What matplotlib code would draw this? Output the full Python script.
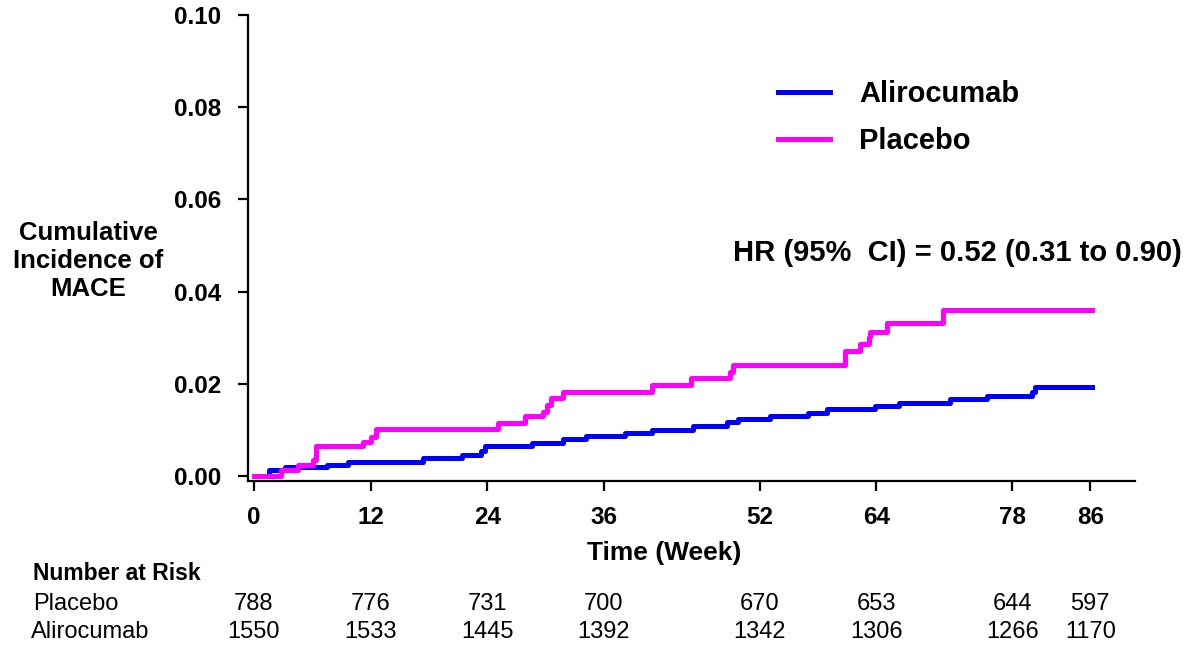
import matplotlib
matplotlib.use('Agg')
import matplotlib.pyplot as plt
from matplotlib.transforms import blended_transform_factory

plt.rcParams['font.family'] = ['Liberation Sans', 'DejaVu Sans']

# Kaplan-Meier style cumulative incidence
placebo_wk = [0, 2.8, 4.5, 6.1, 6.4, 11.2, 12.1, 12.6, 25.1, 27.9, 29.7, 30.1, 30.6,
              31.8, 40.9, 44.9, 49.0, 49.3, 60.8, 62.3, 63.2, 63.4, 65.1, 70.9, 86.2]
placebo_inc = [0, 0.0012, 0.0024, 0.0035, 0.0064, 0.0074, 0.0085, 0.0101, 0.0114, 0.0129,
               0.0139, 0.0154, 0.0169, 0.0183, 0.0197, 0.0212, 0.0226, 0.0241, 0.0270,
               0.0286, 0.0302, 0.0313, 0.0331, 0.0360, 0.0360]

aliro_wk = [0, 1.6, 3.2, 7.5, 9.7, 17.4, 21.4, 23.4, 23.8, 28.6, 31.8, 34.2, 38.2, 40.9,
            45.2, 48.6, 49.8, 53.1, 57.0, 58.9, 63.9, 66.3, 71.6, 75.4, 80.0, 80.3, 86.2]
aliro_inc = [0, 0.0012, 0.0019, 0.0024, 0.0031, 0.0038, 0.0046, 0.0055, 0.0065, 0.0072,
             0.0080, 0.0087, 0.0093, 0.0099, 0.0108, 0.0116, 0.0123, 0.0130, 0.0137,
             0.0145, 0.0152, 0.0159, 0.0166, 0.0174, 0.0183, 0.0192, 0.0192]

weeks = [0, 12, 24, 36, 52, 64, 78, 86]
risk_placebo = [788, 776, 731, 700, 670, 653, 644, 597]
risk_aliro = [1550, 1533, 1445, 1392, 1342, 1306, 1266, 1170]
yticks = [0.00, 0.02, 0.04, 0.06, 0.08, 0.10]

fig = plt.figure(figsize=(11.91, 6.45), dpi=100)
ax = fig.add_axes([0.2082, 0.2543, 0.7448, 0.7224])

ax.plot(aliro_wk, aliro_inc, drawstyle='steps-post', color='#0000FF', lw=3.6, label='Alirocumab')
ax.plot(placebo_wk, placebo_inc, drawstyle='steps-post', color='#FF00FF', lw=3.6, label='Placebo')

ax.set_xlim(-0.6, 90.6)
ax.set_ylim(-0.0011, 0.10)
ax.set_xticks(weeks)
ax.set_yticks(yticks)
ax.set_yticklabels([f'{v:.2f}' for v in yticks])
for s in ['top', 'right']:
    ax.spines[s].set_visible(False)
for s in ['left', 'bottom']:
    ax.spines[s].set_linewidth(1.6)
ax.tick_params(axis='both', length=7, width=1.6, labelsize=17.5)
ax.tick_params(axis='y', pad=12)
ax.tick_params(axis='x', pad=11)
for lab in ax.get_xticklabels() + ax.get_yticklabels():
    lab.set_fontweight('bold')

# legend
ax.legend(loc='upper left', bbox_to_anchor=(0.5676, 0.917), frameon=False,
          prop={'size': 21, 'weight': 'bold'}, handlelength=1.8, handletextpad=1.0,
          labelspacing=0.65)

ax.text(733 / 1191, 1 - 253 / 645, 'HR (95%  CI) = 0.52 (0.31 to 0.90)', transform=fig.transFigure,
        fontsize=21, fontweight='bold', ha='left', va='center')

fig.text(88 / 1191, 1 - 261 / 645, 'Cumulative\nIncidence of\nMACE', ha='center', va='center',
         fontsize=18.5, fontweight='bold', linespacing=1.2)

fig.text(664 / 1191, 1 - 553 / 645, 'Time (Week)', ha='center', va='center',
         fontsize=19, fontweight='bold')

# number at risk table
fig.text(33 / 1191, 1 - 574 / 645, 'Number at Risk', ha='left', va='center',
         fontsize=16.5, fontweight='bold')
fig.text(33 / 1191, 1 - 604 / 645, 'Placebo', ha='left', va='center', fontsize=17)
fig.text(31 / 1191, 1 - 632 / 645, 'Alirocumab', ha='left', va='center', fontsize=17)
trans = blended_transform_factory(ax.transData, fig.transFigure)
for w, p, a in zip(weeks, risk_placebo, risk_aliro):
    ax.text(w, 1 - 604 / 645, str(p), transform=trans, ha='center', va='center', fontsize=17)
    ax.text(w, 1 - 632 / 645, str(a), transform=trans, ha='center', va='center', fontsize=17)

fig.savefig('out.png', dpi=100)
